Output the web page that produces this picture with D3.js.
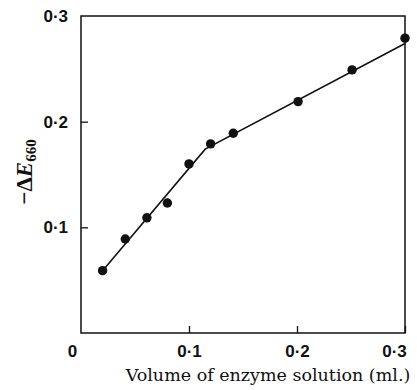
<!DOCTYPE html>
<html>
<head>
<meta charset="utf-8">
<script src="https://cdn.jsdelivr.net/npm/d3@7"></script>
<style>
  body { margin: 0; background: #fff; }
  svg { display: block; }
  .tick text { font-family: "Liberation Sans", Arial, sans-serif; font-weight: bold; font-size: 17px; fill: #111; }
</style>
</head>
<body>
<div id="chart"></div>
<script>
// measured points
const volume = [0.02, 0.041, 0.061, 0.08, 0.1, 0.12, 0.141, 0.201, 0.251, 0.3];
const deltaE = [0.059, 0.089, 0.109, 0.123, 0.16, 0.179, 0.189, 0.219, 0.249, 0.279];

// fitted line (two straight segments)
const lineX = [0.02, 0.115, 0.3];
const lineY = [0.059, 0.174, 0.274];

const xTicks = [0, 0.1, 0.2, 0.3];
const yTicks = [0.1, 0.2, 0.3];
const fmt = v => v === 0 ? "0" : v.toFixed(1).replace(".", "·");

const width = 417, height = 390;
const margin = { top: 16, right: 12, bottom: 57, left: 81 };

const x = d3.scaleLinear().domain([0, 0.3]).range([margin.left, width - margin.right]);
const y = d3.scaleLinear().domain([0, 0.3]).range([height - margin.bottom, margin.top]);

const svg = d3.select("#chart").append("svg")
  .attr("width", width)
  .attr("height", height);

// frame
svg.append("rect")
  .attr("x", x(0)).attr("y", y(0.3))
  .attr("width", x(0.3) - x(0)).attr("height", y(0) - y(0.3))
  .attr("fill", "none").attr("stroke", "#111").attr("stroke-width", 1.5);

// axes, inward ticks
const xAxis = svg.append("g")
  .attr("transform", `translate(0,${y(0)})`)
  .call(d3.axisBottom(x).tickValues(xTicks).tickFormat(fmt).tickSizeInner(-7).tickSizeOuter(0).tickPadding(12));
xAxis.select(".domain").remove();
xAxis.selectAll(".tick line").attr("stroke", "#111").attr("stroke-width", 1.3);
xAxis.selectAll(".tick").filter(d => d === 0).select("line").remove();
xAxis.selectAll(".tick").filter(d => d === 0).select("text").attr("dx", -9);
xAxis.selectAll(".tick").filter(d => d === 0.3).select("text").attr("dx", -11);

const yAxis = svg.append("g")
  .attr("transform", `translate(${x(0)},0)`)
  .call(d3.axisLeft(y).tickValues(yTicks).tickFormat(fmt).tickSizeInner(-7).tickSizeOuter(0).tickPadding(13));
yAxis.select(".domain").remove();
yAxis.selectAll(".tick line").attr("stroke", "#111").attr("stroke-width", 1.3);
yAxis.selectAll(".tick").filter(d => d === 0.3).select("line").remove();

// fitted line
const line = d3.line().x(d => x(d[0])).y(d => y(d[1]));
svg.append("path")
  .datum(lineX.map((v, i) => [v, lineY[i]]))
  .attr("d", line)
  .attr("fill", "none")
  .attr("stroke", "#111")
  .attr("stroke-width", 1.6);

// points
svg.append("g")
  .selectAll("circle")
  .data(volume.map((v, i) => [v, deltaE[i]]))
  .join("circle")
  .attr("cx", d => x(d[0]))
  .attr("cy", d => y(d[1]))
  .attr("r", 4.7)
  .attr("fill", "#111");

// axis titles
svg.append("text")
  .attr("x", 268)
  .attr("y", 381)
  .attr("text-anchor", "middle")
  .attr("font-family", "'DejaVu Serif', serif")
  .attr("font-size", 17.5)
  .attr("fill", "#111")
  .text("Volume of enzyme solution (ml.)");

const yTitle = svg.append("text")
  .attr("transform", "translate(32,172) rotate(-90)")
  .attr("text-anchor", "middle")
  .attr("font-family", "'Liberation Serif', serif")
  .attr("font-weight", "bold")
  .attr("font-size", 23)
  .attr("fill", "#111");
yTitle.append("tspan").text("−Δ");
yTitle.append("tspan").attr("font-style", "italic").text("E");
yTitle.append("tspan").attr("font-size", 15).attr("dy", 4).text("660");
</script>
</body>
</html>
